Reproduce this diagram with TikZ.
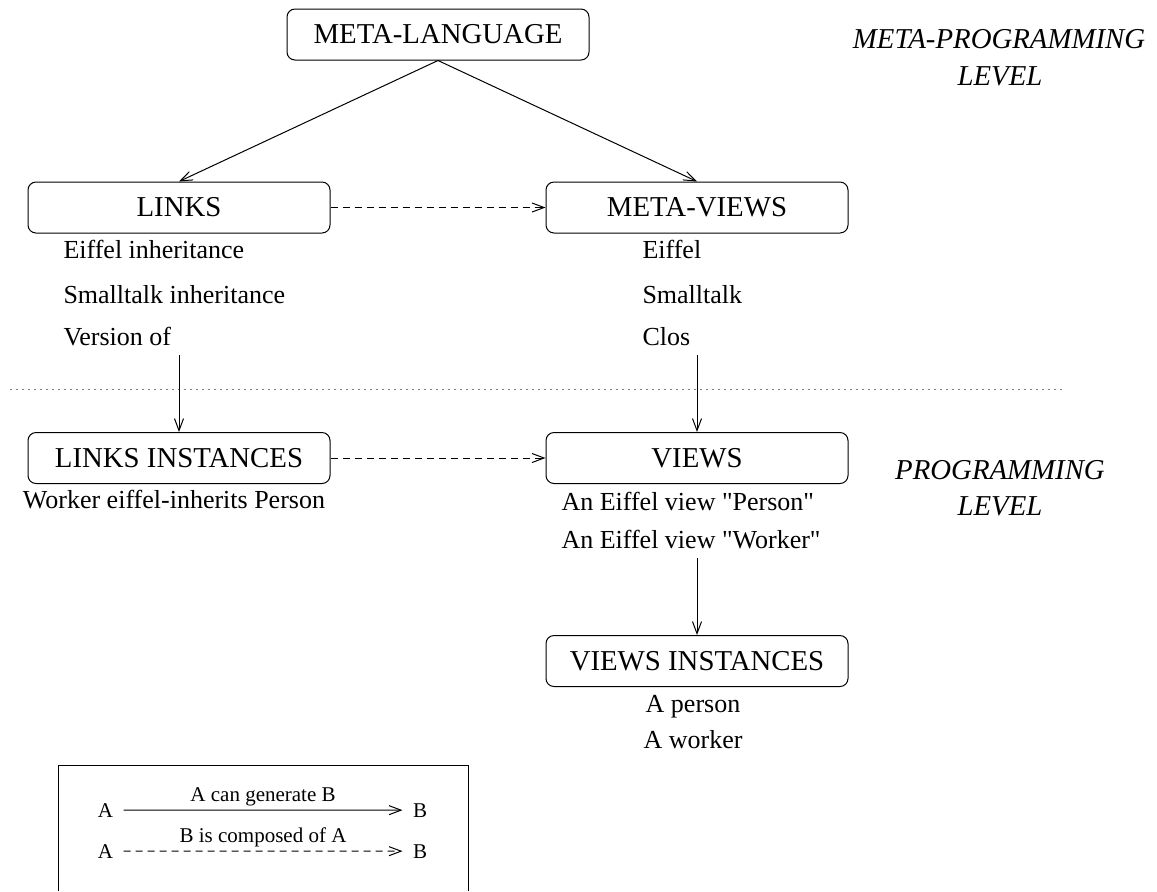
\documentclass[tikz,border=0pt]{standalone}
\usepackage{fontspec}
\setmainfont{Liberation Serif}
\usetikzlibrary{arrows.meta,positioning}
\tikzstyle{box} = [draw,rounded corners=4pt,minimum width=151pt,minimum height=25.5pt,inner sep=0pt,font=\fontsize{14.4}{17}\selectfont]
\tikzstyle{itemtext} = [anchor=base west,inner sep=0pt,font=\fontsize{13}{15}\selectfont]
\tikzstyle{lvltext} = [anchor=base,inner sep=0pt,font=\fontsize{14.4}{17}\selectfont\itshape]
\tikzstyle{keytext} = [inner sep=2pt,font=\fontsize{10.5}{12}\selectfont]
\tikzstyle{dashline} = [dash pattern=on 3.5pt off 2.5pt]
\tikzset{>={Straight Barb[length=6pt,width=4.5pt]}}

\begin{document}
\begin{tikzpicture}[x=0.5pt,y=-0.5pt,line width=0.5pt]
    \useasboundingbox (0,0) rectangle (1157,891);
    % meta-programming level
    \node [box] (metalang) at (438,34.5) {META-LANGUAGE};
    \node [box] (links) at (179,207.5) {LINKS};
    \node [box] (metaviews) at (697,207.5) {META-VIEWS};
    \node [itemtext] (eiffelinh) at (63,258) {Eiffel inheritance};
    \node [itemtext] (smallinh) at (63,303) {Smalltalk inheritance};
    \node [itemtext] (versionof) at (63,345) {Version of};
    \node [itemtext] (eiffel) at (642,258) {Eiffel};
    \node [itemtext] (smalltalk) at (642,303) {Smalltalk};
    \node [itemtext] (clos) at (642,345) {Clos};
    \node [lvltext] (metalvl) at (999,48) {META-PROGRAMMING};
    \node [lvltext] (metalvlb) at (1000,85) {LEVEL};
    \draw [->] (metalang.south) -- (links.north);
    \draw [->] (metalang.south) -- (metaviews.north);
    \draw [->,dashline] (links.east) -- (metaviews.west);
    % separator
    \draw [gray,dash pattern=on 0.8pt off 2.2pt] (10,389) -- (1065,389);
    % programming level
    \node [box] (linksinst) at (179,458) {LINKS INSTANCES};
    \node [box] (views) at (697,458) {VIEWS};
    \node [box] (viewsinst) at (697,661) {VIEWS INSTANCES};
    \node [itemtext,anchor=base] (workerinh) at (174,508) {Worker eiffel-inherits Person};
    \node [itemtext] (viewperson) at (561,510) {An Eiffel view \textquotedbl Person\textquotedbl};
    \node [itemtext] (viewworker) at (561,548) {An Eiffel view \textquotedbl Worker\textquotedbl};
    \node [itemtext,anchor=base] (aperson) at (693,712) {A person};
    \node [itemtext,anchor=base] (aworker) at (693,748) {A worker};
    \node [lvltext] (proglvl) at (1000,479) {PROGRAMMING};
    \node [lvltext] (proglvlb) at (1000,515) {LEVEL};
    \coordinate (linksend) at (179,355);
    \coordinate (viewsend) at (697,355);
    \coordinate (instend) at (697,558);
    \draw [->] (linksend) -- (linksinst.north);
    \draw [->] (viewsend) -- (views.north);
    \draw [->,dashline] (linksinst.east) -- (views.west);
    \draw [->] (instend) -- (viewsinst.north);
    % legend
    \draw (58,891) -- (58,765) -- (468,765) -- (468,891);
    \node [keytext,anchor=base] (ka) at (105.5,817) {A};
    \node [keytext,anchor=base] (kb) at (420,817) {B};
    \node [keytext,anchor=base] (kc) at (105.5,858) {A};
    \node [keytext,anchor=base] (kd) at (420,858) {B};
    \draw [->,shorten <=3pt,shorten >=3pt] (ka.east) -- node [above,keytext] {A can generate B} (kb.west);
    \draw [->,dashline,shorten <=3pt,shorten >=3pt] (kc.east) -- node [above,keytext] {B is composed of A} (kd.west);
\end{tikzpicture}
\end{document}
